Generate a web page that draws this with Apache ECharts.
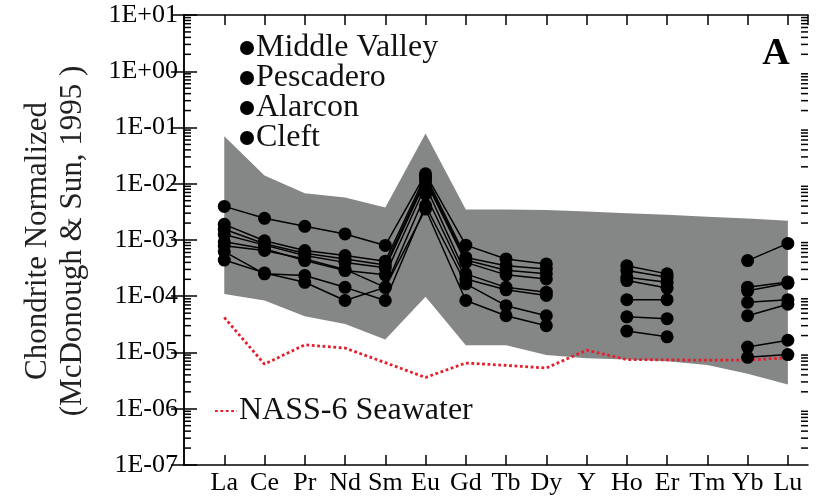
<!DOCTYPE html>
<html><head><meta charset="utf-8">
<script src="https://cdn.jsdelivr.net/npm/echarts@6/dist/echarts.min.js"></script>
<style>html,body{margin:0;padding:0;background:#fff}#c{width:827px;height:497px}</style>
</head><body><div id="c"></div>
<script>
// ---------- data ----------
const elements = ['La','Ce','Pr','Nd','Sm','Eu','Gd','Tb','Dy','Y','Ho','Er','Tm','Yb','Lu'];
const yTickValues = [1e-7,1e-6,1e-5,1e-4,1e-3,1e-2,1e-1,1e0,1e1];
const bandUpper = [7.0e-2,1.4e-2,6.8e-3,5.7e-3,3.8e-3,7.8e-2,3.5e-3,3.5e-3,3.4e-3,3.2e-3,3.0e-3,2.8e-3,2.6e-3,2.4e-3,2.2e-3];
const bandLower = [1.1e-4,8.4e-5,4.4e-5,3.2e-5,1.7e-5,9.8e-5,1.35e-5,1.35e-5,9.0e-6,7.9e-6,7.5e-6,7.0e-6,6.0e-6,4.2e-6,2.7e-6];
const nass6 = [4.2e-5,6.2e-6,1.37e-5,1.2e-5,6.6e-6,3.6e-6,6.5e-6,5.9e-6,5.3e-6,1.1e-5,7.5e-6,7.4e-6,7.3e-6,7.3e-6,8.1e-6];
const groups = ['Middle Valley','Pescadero','Alarcon','Cleft'];
const sampleA = [3.96e-3,2.43e-3,1.75e-3,1.28e-3,8.0e-4,1.5e-2,8.1e-4,4.6e-4,3.75e-4,null,3.5e-4,2.5e-4,null,4.3e-4,8.7e-4];
const sampleB = [1.9e-3,9.7e-4,6.5e-4,5.3e-4,4.2e-4,1.4e-2,4.9e-4,3.5e-4,3.05e-4,null,2.86e-4,2.17e-4,null,1.45e-4,1.8e-4];
const sampleC = [1.55e-3,8.6e-4,5.8e-4,4.6e-4,3.6e-4,1.25e-2,4.4e-4,2.9e-4,2.5e-4,null,2.17e-4,1.77e-4,null,1.25e-4,1.7e-4];
const sampleD = [1.25e-3,8.1e-4,5.3e-4,4.0e-4,3.2e-4,1.13e-2,4.0e-4,2.4e-4,2.03e-4,null,1.9e-4,1.4e-4,null,7.8e-5,8.7e-5];
const sampleE = [9.3e-4,7.0e-4,4.3e-4,2.86e-4,2.4e-4,9.2e-3,2.5e-4,1.44e-4,1.18e-4,null,8.7e-5,8.7e-5,null,4.5e-5,7.2e-5];
const sampleF = [7.9e-4,6.5e-4,4.6e-4,3.0e-4,1.44e-4,6.5e-3,2.03e-4,1.3e-4,1.03e-4,null,4.3e-5,4.0e-5,null,1.25e-5,1.65e-5];
const sampleG = [6.2e-4,2.5e-4,2.33e-4,1.44e-4,8.4e-5,4.1e-3,1.66e-4,6.8e-5,4.5e-5,null,2.4e-5,1.9e-5,null,8.2e-6,9.2e-6];
const sampleH = [4.4e-4,2.6e-4,1.77e-4,8.4e-5,1.44e-4,3.55e-3,8.4e-5,4.5e-5,3.0e-5,null,null,null,null,null,null];
const samples = [
  {group: groups[0], values: sampleA},
  {group: groups[0], values: sampleB},
  {group: groups[1], values: sampleC},
  {group: groups[1], values: sampleD},
  {group: groups[2], values: sampleE},
  {group: groups[2], values: sampleF},
  {group: groups[3], values: sampleG},
  {group: groups[3], values: sampleH}
];

// ---------- build ----------
const FONT = '"Liberation Serif", "Times New Roman", serif';
const X_MIN = 0, X_MAX = 15.5, Y_MIN = 1e-7, Y_MAX = 10;
const pts = arr => arr.map((v, i) => [i + 1, v == null ? null : v]);
const minorTicks = [];
for (let e = -7; e < 1; e++) for (let m = 2; m <= 9; m++) minorTicks.push(m * Math.pow(10, e));
const fmtE = v => { const e = Math.round(Math.log10(v)); return '1E' + (e < 0 ? '-' : '+') + String(Math.abs(e)).padStart(2, '0'); };
const TICK = {show: true, inside: true, lineStyle: {color: '#000', width: 1.5}};

const yAxes = [
  {type: 'log', logBase: 10, min: Y_MIN, max: Y_MAX, splitNumber: 8, position: 'left',
   axisLine: {show: true, lineStyle: {color: '#000', width: 1.5}},
   axisTick: Object.assign({length: 13}, TICK),
   axisLabel: {show: true, formatter: fmtE, fontFamily: FONT, fontSize: 26, color: '#000', margin: 6},
   splitLine: {show: false}, minorTick: {show: false}},
  {type: 'log', logBase: 10, min: Y_MIN, max: Y_MAX, splitNumber: 8, position: 'right',
   axisLine: {show: true, lineStyle: {color: '#000', width: 1.5}},
   axisTick: Object.assign({length: 13}, TICK),
   axisLabel: {show: false}, splitLine: {show: false}, minorTick: {show: false}}
];
const xAxes = ['bottom', 'top'].map(pos => ({
  type: 'value', min: X_MIN, max: X_MAX, interval: 1, position: pos,
  axisLine: {show: true, lineStyle: {color: '#000', width: 1.5}},
  axisTick: Object.assign({length: 10}, TICK),
  axisLabel: pos === 'bottom' ? {show: true, showMaxLabel: false, showMinLabel: false, margin: 5,
      formatter: v => (Number.isInteger(v) && v >= 1 && v <= 15) ? elements[v - 1] : '',
      fontFamily: FONT, fontSize: 26, color: '#000'} : {show: false},
  splitLine: {show: false}
}));

const series = [];
series.push({type: 'custom', name: 'envelope', coordinateSystem: 'cartesian2d', silent: true, z: 1, clip: false,
  data: [[1, bandUpper[0]]],
  renderItem: (params, api) => {
    const up = bandUpper.map((v, i) => api.coord([i + 1, v]));
    const lo = bandLower.map((v, i) => api.coord([i + 1, v])).reverse();
    return {type: 'polygon', shape: {points: up.concat(lo)}, style: {fill: '#858786'}};
  }});
series.push({type: 'line', name: 'NASS-6 Seawater', data: pts(nass6), symbol: 'none', z: 3,
  lineStyle: {color: '#e3202d', width: 2.8, type: [2.8, 2.6]}, itemStyle: {color: '#e3202d'}});
samples.forEach(s => series.push({
  type: 'line', name: s.group, data: pts(s.values), symbol: 'circle', symbolSize: 13, showSymbol: true,
  connectNulls: false, z: 4,
  lineStyle: {color: '#000', width: 1.5}, itemStyle: {color: '#000'}
}));

const chart = echarts.init(document.getElementById('c'), null, {renderer: 'canvas'});
chart.setOption({
  animation: false,
  backgroundColor: '#fff',
  grid: {left: 184, right: 19, top: 15, bottom: 32, containLabel: false},
  xAxis: xAxes,
  yAxis: yAxes,
  legend: [
    {data: groups, orient: 'vertical', left: 240, top: 32, icon: 'circle', itemWidth: 14, itemHeight: 14,
     itemGap: -2, padding: 0, selectedMode: false,
     textStyle: {fontFamily: FONT, fontSize: 32, lineHeight: 29.3, color: '#111', padding: [0,0,0,-3]}},
    {data: ['NASS-6 Seawater'], left: 214, top: 395, itemWidth: 22, itemHeight: 14, padding: 0, selectedMode: false,
     itemStyle: {color: 'rgba(0,0,0,0)', borderWidth: 0, opacity: 0},
     textStyle: {fontFamily: FONT, fontSize: 32, lineHeight: 30, color: '#111', padding: [0,0,0,-3]}}
  ],
  series: series
});

// texts + minor ticks as graphic elements, minor ticks placed through the chart's own axes
const px = (x, y) => chart.convertToPixel({xAxisIndex: 0, yAxisIndex: 0}, [x, y]);
const L = px(X_MIN, 1e-3)[0], R = px(X_MAX, 1e-3)[0];
const els = [
  {type: 'text', x: 776, y: 54, style: {text: 'A', fontFamily: FONT, fontSize: 38, fontWeight: 'bold', fill: '#000', align: 'center', verticalAlign: 'middle'}},
  {type: 'text', x: 38, y: 241, rotation: Math.PI / 2, style: {text: 'Chondrite Normalized', fontFamily: FONT, fontSize: 31, fontWeight: 'normal', fill: '#222', align: 'center', verticalAlign: 'middle'}},
  {type: 'text', x: 73, y: 241, rotation: Math.PI / 2, style: {text: '(McDonough & Sun, 1995 )', fontFamily: FONT, fontSize: 31, fontWeight: 'normal', fill: '#222', align: 'center', verticalAlign: 'middle'}}
];
minorTicks.forEach(v => {
  const y = px(1, v)[1];
  els.push({type: 'line', silent: true, z: 20, shape: {x1: L, y1: y, x2: L + 7, y2: y}, style: {stroke: '#000', lineWidth: 1.5}});
  els.push({type: 'line', silent: true, z: 20, shape: {x1: R, y1: y, x2: R - 7, y2: y}, style: {stroke: '#000', lineWidth: 1.5}});
});
chart.setOption({graphic: els});
</script></body></html>
